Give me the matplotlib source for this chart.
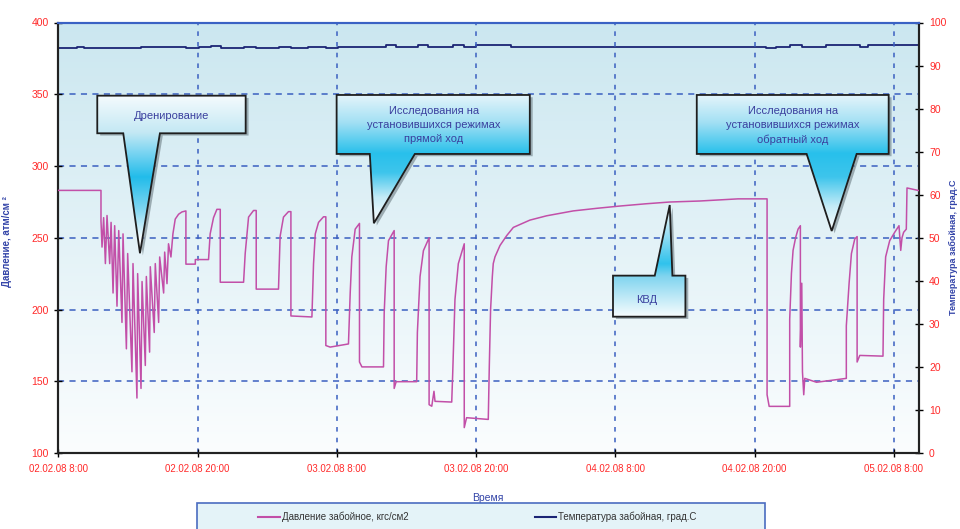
import numpy as np
import matplotlib
matplotlib.use('Agg')
import matplotlib.pyplot as plt
from matplotlib.patches import Polygon, Rectangle
from matplotlib.lines import Line2D
from matplotlib.colors import to_rgb

plt.rcParams['font.family'] = ['Liberation Sans Narrow', 'Liberation Sans', 'DejaVu Sans']

# время в часах от 02.02.08 8:00, давление кгс/см2
chasy_davl = [0, 3.67, 3.67, 3.76, 3.90, 4.05, 4.19, 4.42, 4.54, 4.71, 4.85, 5.05, 5.20, 5.48, 5.57,
              5.86, 5.97, 6.34, 6.43, 6.77, 6.83, 7.12, 7.21, 7.49, 7.58, 7.86, 7.92, 8.26, 8.35,
              8.64, 8.73, 9.07, 9.16, 9.36, 9.49, 9.70, 9.87, 10.07, 10.36, 10.65, 10.99, 10.99,
              11.80, 11.80, 12.94, 13.08, 13.37, 13.66, 13.95, 13.95, 15.96, 16.10, 16.39, 16.82,
              17.05, 17.05, 18.97, 19.11, 19.40, 19.83, 20.04, 20.04, 21.85, 21.99, 22.14, 22.42,
              22.85, 23.05, 23.05, 23.42, 25.00, 25.15, 25.29, 25.58, 25.95, 25.95, 26.16, 28.02,
              28.08, 28.25, 28.45, 28.94, 28.94, 29.11, 30.88, 30.94, 31.17, 31.46, 31.95, 31.95,
              32.18, 32.37, 32.46, 33.90, 33.98, 34.18, 34.47, 34.98, 34.98, 35.18, 37.05, 37.14,
              37.25, 37.40, 37.48, 37.63, 38.06, 38.64, 39.21, 40.64, 42.08, 44.37, 46.39, 48.39,
              50.68, 52.69, 55.27, 58.58, 61.08, 61.08, 61.26, 63.03, 63.03, 63.18, 63.32, 63.55,
              63.75, 63.95, 63.95, 64.07, 64.13, 64.24, 64.33, 65.34, 67.91, 67.91, 68.15, 68.35,
              68.64, 68.84, 68.84, 69.07, 71.07, 71.13, 71.30, 71.65, 72.08, 72.45, 72.60, 72.71,
              72.85, 73.08, 73.14, 74.2]
davlenie = [283, 283, 261.8, 243.5, 264, 232, 265.5, 232, 260.7, 211.5, 258.4, 202.3, 255, 191, 252.7,
            172.6, 239, 156.6, 232, 138.3, 225, 145, 219.5, 161, 223, 170.3, 229.8, 184, 232,
            191, 236.6, 211.5, 240, 218, 245.8, 236.6, 252.7, 263, 266.4, 268, 268.7, 231.6,
            231.6, 234.8, 234.8, 252.7, 264, 269.8, 269.8, 219, 219, 239, 264.4, 269,
            269, 214.2, 214.2, 251, 264.4, 268.2, 268.2, 195.5, 194.8, 232, 252.7, 260.7,
            264.6, 264.6, 174.9, 173.8, 176, 211.5, 236.7, 256, 260, 163.4, 160, 160,
            197.7, 229.8, 248, 255, 145, 149.7, 149.7, 184, 223, 241, 250, 133.7,
            132.6, 143, 136, 135.5, 154.3, 207, 232, 245.8, 117.7, 124.6, 123.4, 161,
            200, 223, 232, 236.7, 244.6, 251.5, 257.2, 262.3, 265.3, 268.7, 270.5, 272.1,
            273.7, 274.9, 275.6, 277.1, 277.1, 140.6, 132.5, 132.5, 193.2, 225.2, 241.2, 250.4,
            256, 258.4, 173.8, 218.3, 156.6, 140.6, 152, 149.3, 152, 188.6, 218.3, 239,
            249.2, 250.8, 163.4, 168, 167.5, 207, 236.7, 248, 253.8, 258.4, 241.2, 250,
            253.8, 256, 284.7, 282.8]

# температура забойная, град.С (ступеньки)
chasy_temp = [0, 1.61, 2.19, 7.08, 10.96, 12.12, 13.12, 13.99, 16.0, 17.01, 19.02, 20.03, 21.47,
              23.05, 24.06, 26.07, 28.23, 29.09, 31.0, 31.86, 34.0, 35.0, 36.0, 39.05, 61.03,
              61.89, 63.04, 64.05, 66.2, 69.08, 69.8, 74.2]
temperatura = [94.0, 94.4, 94.0, 94.3, 94.0, 94.3, 94.5, 94.0, 94.4, 94.0, 94.4, 94.0, 94.4,
               94.0, 94.4, 94.2, 94.8, 94.4, 94.8, 94.4, 94.8, 94.3, 94.8, 94.4, 94.0,
               94.3, 94.8, 94.4, 94.8, 94.3, 94.8, 94.8]

metki_x = ['02.02.08 8:00', '02.02.08 20:00', '03.02.08 8:00', '03.02.08 20:00',
           '04.02.08 8:00', '04.02.08 20:00', '05.02.08 8:00']
chasy_metok = [0, 12, 24, 36, 48, 60, 72]

KRASNYJ = '#ff2a2a'
SINIJ = '#3344a8'
SETKA = '#3a5fc0'


def vynoska(ax, verts, stops, text, tx, ty, fs=8):
    xs = [v[0] for v in verts]
    ys = [v[1] for v in verts]
    ten = Polygon([(x + 0.25, y - 1.6) for x, y in verts], closed=True,
                  fc='#6f7f86', ec='none', alpha=0.6, zorder=5)
    ax.add_patch(ten)
    kontur = Polygon(verts, closed=True, fc='none', ec='#1e1e1e', lw=1.3, zorder=7)
    ax.add_patch(kontur)
    n = 256
    yy = np.linspace(max(ys), min(ys), n)
    pv = np.array([s[0] for s in stops])
    cs = np.array([to_rgb(s[1]) for s in stops])
    order = np.argsort(pv)
    pv, cs = pv[order], cs[order]
    img = np.stack([np.interp(yy, pv, cs[:, k]) for k in range(3)], axis=-1).reshape(n, 1, 3)
    im = ax.imshow(img, extent=(min(xs), max(xs), min(ys), max(ys)), aspect='auto',
                   origin='upper', zorder=6, interpolation='bilinear')
    im.set_clip_path(kontur)
    ax.text(tx, ty, text, ha='center', va='center', fontsize=fs, color='#3a3f9e',
            zorder=8, linespacing=1.5)


fig = plt.figure(figsize=(9.6, 5.29), dpi=100)
ax1 = fig.add_axes([58.4 / 960, 1 - 453 / 529, (919.3 - 58.4) / 960, (453 - 22.5) / 529])
ax2 = ax1.twinx()
ax1.set_zorder(ax2.get_zorder() + 1)
ax1.patch.set_visible(False)

# фон - градиент
fon = np.stack([np.interp(np.linspace(0, 1, 200), [0, 1], [to_rgb('#cbe7f0')[k], to_rgb('#fbfdfe')[k]])
                for k in range(3)], axis=-1).reshape(200, 1, 3)
ax2.imshow(fon, extent=(0, 1, 0, 1), transform=ax2.transAxes, aspect='auto', zorder=0)

ax2.plot(chasy_temp, temperatura, color='#1b2475', lw=1.3, drawstyle='steps-post', zorder=2)
ax1.plot(chasy_davl, davlenie, color='#c24fa8', lw=1.1, zorder=3)

ax1.set_xlim(0, 74.2)
ax1.set_ylim(100, 400)
ax2.set_xlim(0, 74.2)
ax2.set_ylim(0, 100)

for y in [150, 200, 250, 300, 350]:
    ax1.axhline(y, color=SETKA, lw=1.1, dashes=(4, 3.5), zorder=1)
for x in chasy_metok[1:]:
    ax1.axvline(x, color=SETKA, lw=1.1, dashes=(3, 4), zorder=1)

ax1.set_xticks(chasy_metok)
ax1.set_xticklabels(metki_x)
ax1.set_yticks([100, 150, 200, 250, 300, 350, 400])
ax2.set_yticks(range(0, 101, 10))
ax1.tick_params(axis='x', direction='inout', length=6, width=1, colors='black',
                labelcolor=KRASNYJ, labelsize=7, pad=5)
ax1.tick_params(axis='y', direction='inout', length=6, width=1, colors='black',
                labelcolor=KRASNYJ, labelsize=7.5, pad=4)
ax2.tick_params(axis='y', direction='inout', length=6, width=1, colors='black',
                labelcolor=KRASNYJ, labelsize=7.5, pad=4)

for ax in (ax1, ax2):
    for s in ('left', 'right', 'bottom'):
        ax.spines[s].set_color('#222222')
        ax.spines[s].set_linewidth(1.5)
    ax.spines['top'].set_color('#3a62c4')
    ax.spines['top'].set_linewidth(1.5)

ax1.set_ylabel('Давление, атм/см ²', color=SINIJ, fontsize=7, fontweight='bold')
ax1.yaxis.set_label_coords(-0.054, 0.49)
ax2.set_ylabel('Температура забойная, град.С', color=SINIJ, fontsize=6.5, fontweight='bold')
ax2.yaxis.set_label_coords(1.034, 0.477)
ax1.set_xlabel('Время', color=SINIJ, fontsize=7.5)
ax1.xaxis.set_label_coords(0.499, -0.093)

# выноски
vynoska(ax1, [(3.35, 349.0), (16.14, 349.0), (16.14, 322.8), (8.75, 322.8), (7.03, 239.2),
              (5.59, 322.8), (3.35, 322.8)],
        [(349, '#f5fbfd'), (323, '#c4e8f4'), (310, '#7fd6f2'), (292, '#22bcea'),
         (270, '#7dd5f1'), (250, '#f0fafd'), (239, '#ffffff')],
        'Дренирование', 9.76, 334.9)
vynoska(ax1, [(23.98, 349.5), (40.63, 349.5), (40.63, 308.4), (30.72, 308.4), (27.19, 260.1),
              (26.84, 308.4), (23.98, 308.4)],
        [(349.5, '#e6f5fb'), (330, '#a3e0f4'), (308.4, '#28c0eb'), (295, '#3ec5ec'),
         (278, '#c3ebf7'), (260, '#ffffff')],
        'Исследования на\nустановившихся режимах\nпрямой ход', 32.36, 328.3)
vynoska(ax1, [(55.02, 349.5), (71.56, 349.5), (71.56, 308.4), (68.80, 308.4), (66.65, 254.7),
              (64.49, 308.4), (55.02, 308.4)],
        [(349.5, '#e6f5fb'), (330, '#a3e0f4'), (308.4, '#28c0eb'), (292, '#3ec5ec'),
         (272, '#c3ebf7'), (254, '#ffffff')],
        'Исследования на\nустановившихся режимах\nобратный ход', 63.3, 328.3)
vynoska(ax1, [(47.80, 195.0), (47.80, 223.6), (51.40, 223.6), (52.69, 272.8), (52.92, 223.6),
              (54.04, 223.6), (54.04, 195.0)],
        [(272.8, '#ffffff'), (255, '#a6e2f5'), (232, '#30c2ec'), (223.6, '#7fd4ef'),
         (195, '#f8fdfe')],
        'КВД', 50.68, 206.6)

ax1.set_xlim(0, 74.2)
ax1.set_ylim(100, 400)

# легенда
fig.patches.append(Rectangle((197 / 960, -0.02), 568 / 960, (529 - 503) / 529 + 0.02,
                             transform=fig.transFigure, fc='#e4f3f8', ec='#4a6cc0', lw=1.2))
yl = 1 - 517 / 529
fig.lines.append(Line2D([258 / 960, 280 / 960], [yl, yl], transform=fig.transFigure,
                        color='#c24fa8', lw=1.5))
fig.lines.append(Line2D([535 / 960, 556 / 960], [yl, yl], transform=fig.transFigure,
                        color='#1b2475', lw=1.5))
fig.text(282 / 960, yl, 'Давление забойное, кгс/см2', fontsize=7, va='center', color='#333333')
fig.text(558 / 960, yl, 'Температура забойная, град.С', fontsize=7, va='center', color='#333333')

fig.savefig('out.png', dpi=100)
